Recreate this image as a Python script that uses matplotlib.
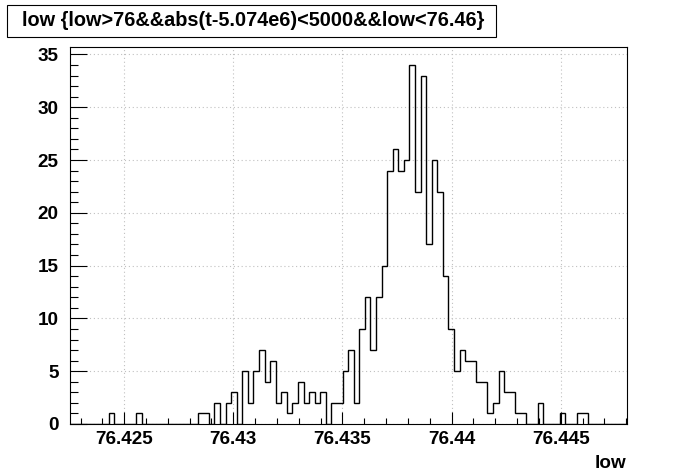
import numpy as np
import matplotlib
matplotlib.use("Agg")
import matplotlib.pyplot as plt
from matplotlib.patches import Rectangle
from matplotlib.ticker import MultipleLocator, FixedLocator, FixedFormatter

plt.rcParams['font.family'] = ['Liberation Sans', 'DejaVu Sans']
plt.rcParams['font.weight'] = 'bold'

# histogram of "low", 100 bins
title = "low {low>76&&abs(t-5.074e6)<5000&&low<76.46}"
x_label = "low"
x_min = 76.4225
bin_width = 0.00025526
counts = [0, 0, 0, 0, 0, 0, 0, 1, 0, 0,
          0, 0, 1, 0, 0, 0, 0, 0, 0, 0,
          0, 0, 0, 1, 1, 0, 2, 0, 2, 3,
          0, 5, 2, 5, 7, 4, 6, 2, 3, 1,
          2, 4, 2, 3, 2, 3, 0, 2, 2, 5,
          7, 2, 9, 12, 7, 12, 15, 24, 26, 24,
          25, 34, 22, 33, 17, 25, 22, 14, 9, 5,
          7, 6, 6, 4, 4, 1, 2, 5, 3, 3,
          1, 1, 0, 0, 2, 0, 0, 0, 1, 0,
          0, 1, 1, 0, 0, 0, 0, 0, 0, 0]
x_ticks = [76.425, 76.43, 76.435, 76.44, 76.445]
x_ticklabels = ["76.425", "76.43", "76.435", "76.44", "76.445"]
y_ticks = [0, 5, 10, 15, 20, 25, 30, 35]

edges = x_min + bin_width * np.arange(len(counts) + 1)

fig = plt.figure(figsize=(6.96, 4.72), dpi=100)
ax = fig.add_axes([0.1, 0.1017, 0.8005, 0.7987])

ax.stairs(counts, edges, color='black', linewidth=1.0, baseline=0)

ax.set_xlim(edges[0], edges[-1])
ax.set_ylim(0, 1.05 * max(counts))

ax.xaxis.set_major_locator(FixedLocator(x_ticks))
ax.xaxis.set_major_formatter(FixedFormatter(x_ticklabels))
ax.xaxis.set_minor_locator(MultipleLocator(0.001))
ax.yaxis.set_major_locator(FixedLocator(y_ticks))
ax.yaxis.set_minor_locator(MultipleLocator(1))

ax.tick_params(which='both', direction='in', top=False, right=False,
               labelsize=13.6, width=0.8)
ax.tick_params(axis='y', which='major', length=12, pad=8)
ax.tick_params(axis='y', which='minor', length=6)
ax.tick_params(axis='x', which='major', length=8.5, pad=5)
ax.tick_params(axis='x', which='minor', length=4.5)

ax.grid(True, which='major', color='#c0c0c0', linestyle=(0, (1, 2.5)), linewidth=0.8)
ax.set_axisbelow(True)
for s in ax.spines.values():
    s.set_linewidth(0.8)

ax.set_xlabel(x_label, fontsize=13.6, fontweight='bold', loc='right', labelpad=5)

# title box
fig.patches.append(Rectangle((7 / 696, 1 - 37 / 472), 489 / 696, 32 / 472,
                             transform=fig.transFigure, facecolor='white',
                             edgecolor='black', linewidth=0.8))
fig.text(253 / 696, 1 - 21 / 472, title, ha='center', va='center',
         fontsize=14.3, fontweight='bold')

fig.savefig("out.png", dpi=100)
